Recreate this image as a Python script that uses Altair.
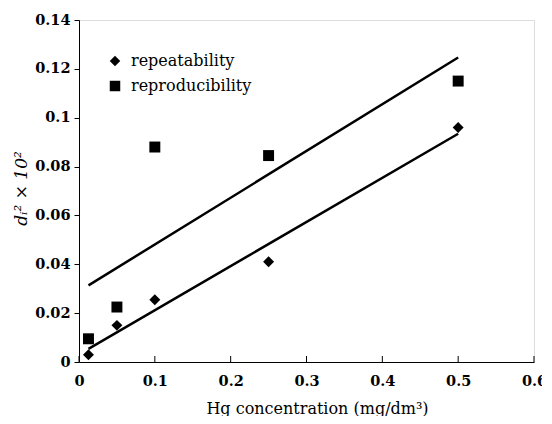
import altair as alt
import pandas as pd

conc = [0.0125, 0.05, 0.1, 0.25, 0.5]
repeatability = [0.003, 0.015, 0.0255, 0.041, 0.096]
reproducibility = [0.0095, 0.0225, 0.088, 0.0845, 0.115]
series_names = ["repeatability", "reproducibility"]
x_ticks = [0, 0.1, 0.2, 0.3, 0.4, 0.5, 0.6]
y_ticks = [0, 0.02, 0.04, 0.06, 0.08, 0.1, 0.12, 0.14]

rows = []
for name, vals in zip(series_names, [repeatability, reproducibility]):
    for x, y in zip(conc, vals):
        rows.append({"conc": x, "value": y, "series": name})
df = pd.DataFrame(rows)
tick_df = pd.DataFrame({"t": x_ticks})

FONT = "DejaVu Serif"
W = 455
H = 342

xscale = alt.Scale(domain=[0, 0.6], nice=False, zero=False)
yscale = alt.Scale(domain=[0, 0.14], nice=False)

xaxis = alt.Axis(
    title="Hg concentration (mg/dm³)", values=x_ticks,
    format="~g", grid=False, ticks=False, domainColor="black", labelFlush=False,
    labelFont=FONT, labelFontSize=14.5, labelFontWeight="bold", labelColor="black", labelPadding=12,
    titleFont=FONT, titleFontSize=16, titleFontWeight="normal", titleColor="black",
    titleX=238, titleY=51, titleAnchor="start", titleAlign="center", titleBaseline="alphabetic",
)
yaxis = alt.Axis(
    title="dᵢ² × 10²", values=y_ticks,
    format="~g", grid=False, tickSize=5, tickColor="black", domainColor="black", labelFlush=False,
    labelFont=FONT, labelFontSize=14.5, labelFontWeight="bold", labelColor="black", labelPadding=4,
    titleFont=FONT, titleFontSize=17, titleFontWeight="normal", titleFontStyle="italic", titleColor="black",
    titleX=-58, titleY=168, titleAngle=-90, titleAlign="center", titleBaseline="middle",
)

points = alt.Chart(df).mark_point(filled=True, opacity=1, color="black", size=120).encode(
    x=alt.X("conc:Q", scale=xscale, axis=xaxis),
    y=alt.Y("value:Q", scale=yscale, axis=yaxis),
    shape=alt.Shape("series:N", scale=alt.Scale(domain=series_names, range=["diamond", "square"]),
                    legend=alt.Legend(title=None, orient="none", legendX=28, legendY=33,
                                      labelFont=FONT, labelFontSize=16, labelFontWeight="normal",
                                      labelColor="black", symbolFillColor="black", symbolStrokeColor="black",
                                      symbolOpacity=1, symbolSize=110, rowPadding=7, labelOffset=8)),
)

lines = alt.Chart(df).transform_regression(
    "conc", "value", groupby=["series"]
).mark_line(color="black", strokeWidth=2.5).encode(
    x=alt.X("conc:Q", scale=xscale),
    y=alt.Y("value:Q", scale=yscale),
    detail="series:N",
)

inner_ticks = alt.Chart(tick_df).mark_rule(color="black", strokeWidth=1).encode(
    x=alt.X("t:Q", scale=xscale),
    y=alt.value(H),
    y2=alt.value(H - 6),
)

chart = alt.layer(inner_ticks, lines, points).properties(
    width=W, height=H,
    autosize=alt.AutoSizeParams(type="none"),
    padding={"left": 71, "top": 12, "right": 8, "bottom": 54},
).configure_view(stroke="black", strokeWidth=1.5).configure(background="white")

chart.save("out.html", embed_options={"renderer": "svg", "actions": False})
